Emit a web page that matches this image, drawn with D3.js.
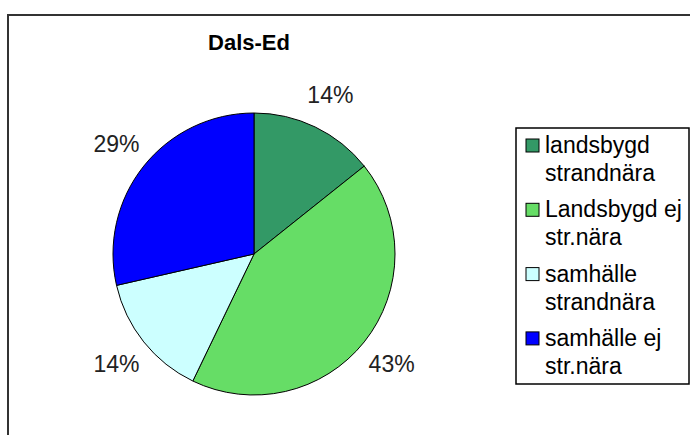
<!DOCTYPE html>
<html>
<head>
<meta charset="utf-8">
<script src="https://cdn.jsdelivr.net/npm/d3@7"></script>
<style>
  body { margin: 0; background: #fff; }
  svg { display: block; font-family: Arial, "Liberation Sans", sans-serif; }
</style>
</head>
<body>
<svg></svg>
<script>
// chart data
var title = "Dals-Ed";
var categories = ["landsbygd strandnära", "Landsbygd ej str.nära", "samhälle strandnära", "samhälle ej str.nära"];
var legendLines = [["landsbygd", "strandnära"], ["Landsbygd ej", "str.nära"], ["samhälle", "strandnära"], ["samhälle ej", "str.nära"]];
var values = [14.3, 42.9, 14.3, 28.6];
var colors = ["#339966", "#66dd66", "#ccffff", "#0000ff"];

var svgWidth = 690, svgHeight = 435;
var cx = 254, cy = 254, radius = 141;

var svg = d3.select("svg")
  .attr("width", svgWidth)
  .attr("height", svgHeight);

// outer chart frame (runs off right and bottom)
svg.append("rect")
  .attr("x", 8)
  .attr("y", 15)
  .attr("width", 720)
  .attr("height", 460)
  .attr("fill", "#fff")
  .attr("stroke", "#333")
  .attr("stroke-width", 2);

svg.append("text")
  .attr("x", 249)
  .attr("y", 50)
  .attr("text-anchor", "middle")
  .attr("font-size", 22)
  .attr("font-weight", "bold")
  .text(title);

var pie = d3.pie().sort(null).value(function (d) { return d; });
var arcs = pie(values);

var arc = d3.arc().innerRadius(0).outerRadius(radius);
var labelArc = d3.arc().innerRadius(176).outerRadius(176);

var g = svg.append("g")
  .attr("transform", "translate(" + cx + "," + cy + ")");

g.selectAll("path")
  .data(arcs)
  .enter()
  .append("path")
  .attr("d", arc)
  .attr("fill", function (d, i) { return colors[i]; })
  .attr("stroke", "#000")
  .attr("stroke-width", 1);

var total = d3.sum(values);
g.selectAll("text.lbl")
  .data(arcs)
  .enter()
  .append("text")
  .attr("class", "lbl")
  .attr("transform", function (d) { return "translate(" + labelArc.centroid(d) + ")"; })
  .attr("dy", "0.35em")
  .attr("text-anchor", "middle")
  .attr("font-size", 23)
  .attr("fill", "#222")
  .text(function (d) { return Math.round(d.value / total * 100) + "%"; });

// legend
var legend = svg.append("g");
legend.append("rect")
  .attr("x", 516)
  .attr("y", 128)
  .attr("width", 173)
  .attr("height", 256)
  .attr("fill", "#fff")
  .attr("stroke", "#000")
  .attr("stroke-width", 1.5);

var item = legend.selectAll("g.item")
  .data(categories)
  .enter()
  .append("g")
  .attr("class", "item")
  .attr("transform", function (d, i) { return "translate(0," + (153 + i * 64.3) + ")"; });

item.append("rect")
  .attr("x", 526)
  .attr("y", -14)
  .attr("width", 13)
  .attr("height", 13)
  .attr("fill", function (d, i) { return colors[i]; })
  .attr("stroke", "#000")
  .attr("stroke-width", 1);

item.each(function (d, i) {
  d3.select(this).selectAll("text")
    .data(legendLines[i])
    .enter()
    .append("text")
    .attr("x", 545)
    .attr("y", function (t, j) { return j * 28; })
    .attr("font-size", 23)
    .attr("fill", "#000")
    .text(function (t) { return t; });
});
</script>
</body>
</html>
